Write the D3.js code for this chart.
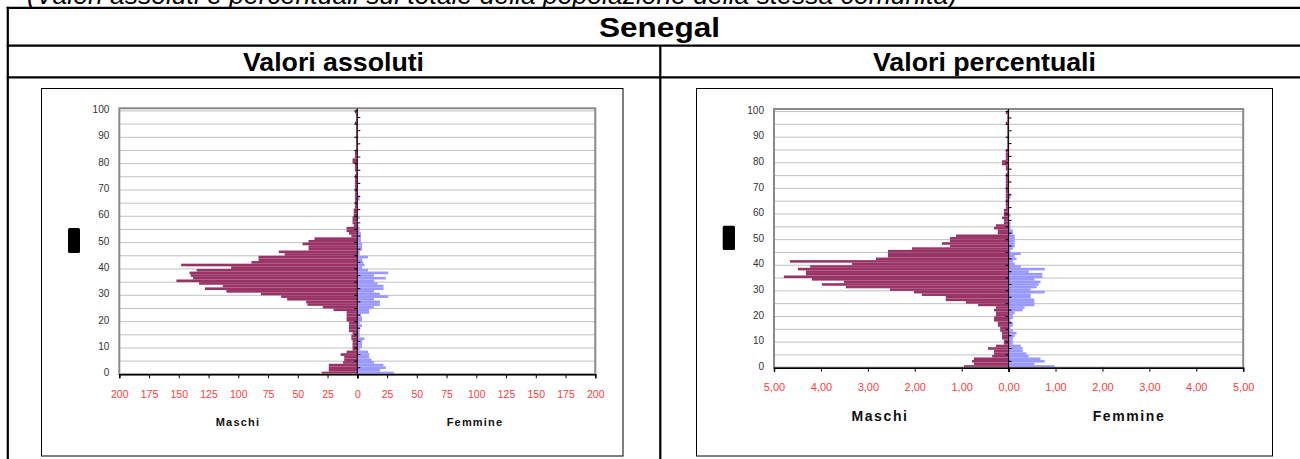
<!DOCTYPE html>
<html>
<head>
<meta charset="utf-8">
<script src="https://cdn.jsdelivr.net/npm/d3@7"></script>
<style>
  body { margin: 0; background: #fff; }
  svg { display: block; font-family: "Liberation Sans", Arial, sans-serif; }
</style>
</head>
<body>
<svg id="chart" width="1300" height="459"></svg>
<script>
// Ages 0..100, one bar per single year of age
const ages = d3.range(0, 101);

// Resident population of Senegal nationality, absolute counts by age
const maleAbs = [
  30, 24, 24, 24, 12, 11, 11, 14, 9, 4,
  4, 4, 4, 5, 5, 4, 7, 7, 7, 7,
  9, 9, 9, 9, 20, 29, 42, 43, 59, 64,
  81, 110, 128, 113, 133, 152, 138, 140, 141, 135,
  106, 148, 89, 83, 83, 61, 66, 41, 41, 46,
  41, 36, 5, 7, 9, 9, 3, 4, 4, 4,
  3, 3, 3, 2, 2, 2, 2, 2, 2, 2,
  2, 2, 2, 2, 2, 2, 1, 2, 2, 2,
  4, 4, 2, 2, 2, 1, 1, 1, 1, 1,
  1, 1, 1, 1, 1, 2, 1, 1, 1, 2,
  1
];
const femaleAbs = [
  31, 19, 24, 22, 14, 12, 10, 10, 9, 2,
  4, 4, 4, 6, 2, 2, 2, 2, 4, 2,
  4, 4, 3, 10, 10, 14, 19, 19, 14, 26,
  19, 14, 22, 22, 17, 14, 24, 14, 26, 9,
  4, 6, 5, 4, 9, 2, 2, 4, 4, 4,
  3, 3, 3, 3, 2, 2, 1, 0, 0, 2,
  0, 0, 0, 0, 0, 0, 2, 2, 0, 0,
  0, 0, 0, 0, 0, 0, 0, 0, 0, 0,
  0, 0, 0, 0, 0, 0, 0, 0, 0, 0,
  0, 0, 0, 0, 0, 0, 0, 0, 0, 0,
  0
];

// Same population as a percentage of the community total
const malePct = [
  0.95, 0.74, 0.78, 0.74, 0.35, 0.31, 0.31, 0.44, 0.27, 0.10,
  0.10, 0.14, 0.14, 0.14, 0.18, 0.18, 0.23, 0.23, 0.31, 0.31,
  0.27, 0.27, 0.31, 0.27, 0.65, 0.91, 1.34, 1.34, 1.85, 2.02,
  2.53, 3.47, 3.98, 3.51, 4.19, 4.79, 4.32, 4.32, 4.49, 4.23,
  3.34, 4.66, 2.83, 2.57, 2.57, 2.57, 2.06, 1.25, 1.42, 1.25,
  1.25, 1.12, 0.23, 0.23, 0.31, 0.27, 0.10, 0.10, 0.14, 0.10,
  0.10, 0.10, 0.06, 0.06, 0.06, 0.06, 0.06, 0.06, 0.06, 0.06,
  0.06, 0.06, 0.06, 0.06, 0.06, 0.06, 0.03, 0.06, 0.06, 0.14,
  0.14, 0.06, 0.06, 0.06, 0.06, 0.03, 0.03, 0.03, 0.03, 0.03,
  0.03, 0.03, 0.03, 0.03, 0.03, 0.06, 0.03, 0.03, 0.03, 0.06,
  0.03
];
const femalePct = [
  0.98, 0.55, 0.77, 0.68, 0.43, 0.38, 0.30, 0.30, 0.26, 0.09,
  0.09, 0.09, 0.13, 0.17, 0.09, 0.04, 0.09, 0.09, 0.04, 0.09,
  0.09, 0.13, 0.30, 0.34, 0.55, 0.55, 0.55, 0.47, 0.47, 0.77,
  0.47, 0.60, 0.64, 0.68, 0.55, 0.72, 0.72, 0.43, 0.77, 0.26,
  0.13, 0.09, 0.17, 0.13, 0.26, 0.04, 0.09, 0.13, 0.13, 0.13,
  0.13, 0.13, 0.09, 0.09, 0.04, 0.04, 0.04, 0, 0, 0.04,
  0, 0, 0, 0, 0, 0, 0.04, 0.04, 0, 0,
  0, 0, 0, 0, 0, 0, 0, 0, 0, 0,
  0, 0, 0, 0, 0, 0, 0, 0, 0, 0,
  0, 0, 0, 0, 0, 0, 0, 0, 0, 0,
  0
];

// Axis tick values and labels
const ageTicks = d3.range(0, 101, 10);
const absTicks = d3.range(0, 201, 25);
const pctTicks = d3.range(0, 6, 1);
const sexLabels = ["Maschi", "Femmine"];

const itLocale = d3.formatLocale({ decimal: ",", thousands: ".", grouping: [3], currency: ["€", ""] });
const fmtPct = itLocale.format(".2f");
const fmtAbs = d3.format("d");

const MALE = "#993366";
const FEMALE = "#9999ff";

const svg = d3.select("#chart");

// ---- Table frame around the two pyramids ----
const frame = svg.append("g").attr("stroke", "#000").attr("stroke-width", 2.2);
frame.append("line").attr("x1", 6.7).attr("x2", 1300).attr("y1", 7.8).attr("y2", 7.8);
frame.append("line").attr("x1", 6.7).attr("x2", 1300).attr("y1", 45.7).attr("y2", 45.7);
frame.append("line").attr("x1", 6.7).attr("x2", 1300).attr("y1", 77.3).attr("y2", 77.3);
frame.append("line").attr("x1", 7.8).attr("x2", 7.8).attr("y1", 6.7).attr("y2", 459);
frame.append("line").attr("x1", 660.3).attr("x2", 660.3).attr("y1", 45.7).attr("y2", 459);

svg.append("text")
  .attr("x", 27).attr("y", 4)
  .attr("font-size", 25).attr("font-style", "italic")
  .attr("textLength", 930).attr("lengthAdjust", "spacingAndGlyphs")
  .text("(Valori assoluti e percentuali sul totale della popolazione della stessa comunità)");

svg.append("text")
  .attr("x", 659.5).attr("y", 37.3)
  .attr("text-anchor", "middle").attr("font-weight", "bold").attr("font-size", 28.5)
  .attr("textLength", 121).attr("lengthAdjust", "spacingAndGlyphs")
  .text("Senegal");

svg.append("text")
  .attr("x", 333.5).attr("y", 71)
  .attr("text-anchor", "middle").attr("font-weight", "bold").attr("font-size", 25)
  .attr("textLength", 181).attr("lengthAdjust", "spacingAndGlyphs")
  .text("Valori assoluti");

svg.append("text")
  .attr("x", 984.5).attr("y", 71)
  .attr("text-anchor", "middle").attr("font-weight", "bold").attr("font-size", 25)
  .attr("textLength", 223).attr("lengthAdjust", "spacingAndGlyphs")
  .text("Valori percentuali");

// ---- One population pyramid ----
function pyramid(cfg) {
  const g = svg.append("g");

  // chart area box
  g.append("rect")
    .attr("x", cfg.box[0]).attr("y", cfg.box[1])
    .attr("width", cfg.box[2]).attr("height", cfg.box[3])
    .attr("fill", "#fff").attr("stroke", "#000").attr("stroke-width", 1);

  // left-side placeholder block next to the age axis
  g.append("rect")
    .attr("x", cfg.block[0]).attr("y", cfg.block[1])
    .attr("width", cfg.block[2]).attr("height", cfg.block[3])
    .attr("rx", 1.5).attr("fill", "#000");

  const y = d3.scaleBand().domain(ages).range([cfg.bottom, cfg.top]).padding(0);
  const yEdge = k => y(k) + y.bandwidth();

  const xM = d3.scaleLinear().domain([0, cfg.max]).range([cfg.zero, cfg.left]);
  const xF = d3.scaleLinear().domain([0, cfg.max]).range([cfg.zero, cfg.right]);

  // horizontal gridlines every 5 years
  g.append("g").selectAll("line")
    .data(d3.range(5, 101, 5))
    .join("line")
    .attr("x1", cfg.left).attr("x2", cfg.right)
    .attr("y1", d => yEdge(d)).attr("y2", d => yEdge(d))
    .attr("stroke", "#c0c0c0").attr("stroke-width", 1);

  // male bars grow leftwards, female bars rightwards
  g.append("g").selectAll("rect")
    .data(ages.filter(a => cfg.male[a] > 0))
    .join("rect")
    .attr("x", a => xM(cfg.male[a]))
    .attr("y", a => y(a))
    .attr("width", a => cfg.zero - xM(cfg.male[a]))
    .attr("height", y.bandwidth())
    .attr("fill", MALE);

  g.append("g").selectAll("rect")
    .data(ages.filter(a => cfg.female[a] > 0))
    .join("rect")
    .attr("x", cfg.zero)
    .attr("y", a => y(a))
    .attr("width", a => xF(cfg.female[a]) - cfg.zero)
    .attr("height", y.bandwidth())
    .attr("fill", FEMALE);

  // plot area border
  g.append("rect")
    .attr("x", cfg.left).attr("y", cfg.top)
    .attr("width", cfg.right - cfg.left).attr("height", cfg.bottom - cfg.top)
    .attr("fill", "none").attr("stroke", "#8a8a8a").attr("stroke-width", 2);

  // central age axis with its tick marks
  g.append("line")
    .attr("x1", cfg.zero).attr("x2", cfg.zero)
    .attr("y1", cfg.top).attr("y2", cfg.bottom)
    .attr("stroke", "#000").attr("stroke-width", 1);
  g.append("g").selectAll("line")
    .data(d3.range(5, 101, 5))
    .join("line")
    .attr("x1", cfg.zero - 3).attr("x2", cfg.zero)
    .attr("y1", d => yEdge(d)).attr("y2", d => yEdge(d))
    .attr("stroke", "#000");
  g.append("g").selectAll("line")
    .data(d3.range(0, 100, 5))
    .join("line")
    .attr("x1", cfg.zero).attr("x2", cfg.zero + 3)
    .attr("y1", d => (yEdge(d + 2) + yEdge(d + 3)) / 2)
    .attr("y2", d => (yEdge(d + 2) + yEdge(d + 3)) / 2)
    .attr("stroke", "#000");

  // age labels
  g.append("g").selectAll("text")
    .data(ageTicks)
    .join("text")
    .attr("x", cfg.left - 10)
    .attr("y", d => y(d) + y.bandwidth() / 2)
    .attr("dy", "0.35em")
    .attr("text-anchor", "end")
    .attr("font-size", 10).attr("fill", "#333")
    .text(d => d);

  // bottom value axis, one half per sex (the shared zero is labelled once)
  const axisM = d3.axisBottom(xM).tickValues(cfg.ticks).tickSize(4).tickFormat(cfg.fmt);
  const axisF = d3.axisBottom(xF).tickValues(cfg.ticks.filter(t => t > 0)).tickSize(4).tickFormat(cfg.fmt);
  [axisM, axisF].forEach(ax => {
    const a = g.append("g")
      .attr("transform", `translate(0,${cfg.bottom})`)
      .call(ax);
    a.select(".domain").attr("stroke", "#000").attr("stroke-width", 1.5);
    a.selectAll(".tick line").attr("stroke", "#000");
    a.selectAll(".tick text")
      .attr("y", cfg.tickLabelDy)
      .attr("dy", 0)
      .attr("fill", "#ff3b3b")
      .attr("font-size", cfg.tickFont)
      .attr("font-family", "\"Liberation Sans\", Arial, sans-serif");
  });

  // sex captions under each half
  g.append("g").selectAll("text")
    .data(sexLabels)
    .join("text")
    .attr("x", (d, i) => cfg.captionX[i])
    .attr("y", cfg.captionY)
    .attr("text-anchor", "middle")
    .attr("font-weight", "bold")
    .attr("font-size", cfg.captionFont)
    .attr("letter-spacing", cfg.captionSpacing)
    .attr("fill", "#111")
    .text(d => d);
}

pyramid({
  box: [41.5, 88.5, 581.5, 367.5],
  block: [68, 228, 12, 25],
  left: 119.3, right: 595.3, zero: 357.3, top: 108.3, bottom: 374.3,
  max: 200, ticks: absTicks, fmt: fmtAbs,
  male: maleAbs, female: femaleAbs,
  tickLabelDy: 23.5, tickFont: 10.5,
  captionX: [238, 475], captionY: 426, captionFont: 11, captionSpacing: 1.2
});

pyramid({
  box: [696.5, 88.5, 576, 367.5],
  block: [722.7, 225.7, 12.3, 24.3],
  left: 774, right: 1243.2, zero: 1008.6, top: 109, bottom: 367.7,
  max: 5, ticks: pctTicks, fmt: fmtPct,
  male: malePct, female: femalePct,
  tickLabelDy: 23, tickFont: 11,
  captionX: [880, 1129], captionY: 420.5, captionFont: 14, captionSpacing: 1.6
});
</script>
</body>
</html>
